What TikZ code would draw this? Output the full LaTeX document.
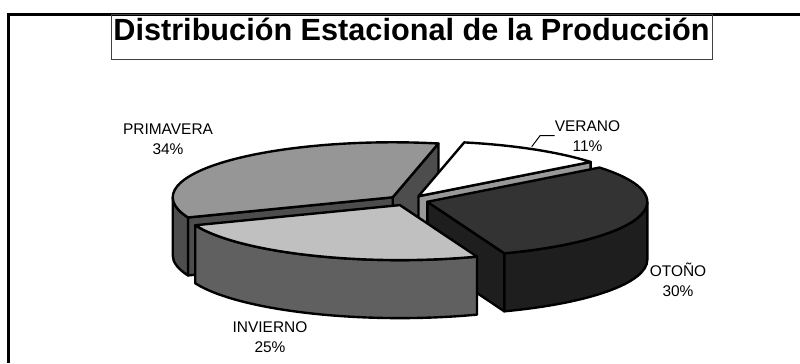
\documentclass[tikz,border=0pt]{standalone}
\usepackage{fontspec}
\setmainfont{Liberation Sans}
\definecolor{primTapa}{HTML}{969696}
\definecolor{primLado}{HTML}{4D4D4D}
\definecolor{verLado}{HTML}{999999}
\definecolor{otoTapa}{HTML}{333333}
\definecolor{otoLado}{HTML}{1E1E1E}
\definecolor{invTapa}{HTML}{C0C0C0}
\definecolor{invLado}{HTML}{606060}
\tikzset{
    cara/.style={draw, line width=1.7pt, line join=round},
    etiqueta/.style={align=center, inner sep=0pt, font=\fontsize{11}{14.2}\selectfont}
}
\newcommand{\grosor}{58}

\begin{document}
\begin{tikzpicture}[x=0.025cm, y=0.025cm]
\useasboundingbox (0,0) rectangle (800,363);

\draw[line width=1.9pt] (8.7,0) -- (8.7,348.3) -- (800,348.3);
\draw[black!75, line width=0.7pt] (111,304) rectangle (712,348.3);
\node[anchor=base, font=\fontsize{21.8}{26}\selectfont\bfseries] (titulo) at (411.5,322) {Distribución Estacional de la Producción};

% primavera
\coordinate (prim) at (392.7,165.7);
\filldraw[cara, fill=primLado] (prim) -- ++(78:220 and 55) -- ++(0,-\grosor) -- ++(258:220 and 55) -- cycle;
\filldraw[cara, fill=primLado] (prim) -- ++(201.5:220 and 55) -- ++(0,-\grosor) -- ++(21.5:220 and 55) -- cycle;
\filldraw[cara, fill=primLado] (prim) ++(180:220 and 55) arc[start angle=180, end angle=201.5, x radius=220, y radius=55] -- ++(0,-\grosor) arc[start angle=201.5, end angle=180, x radius=220, y radius=55] -- cycle;
\filldraw[cara, fill=primTapa] (prim) -- ++(78:220 and 55) arc[start angle=78, end angle=201.5, x radius=220, y radius=55] -- cycle;

% verano
\coordinate (ver) at (418.5,166.8);
\filldraw[cara, fill=verLado] (ver) -- ++(38.5:220 and 55) -- ++(0,-\grosor) -- ++(218.5:220 and 55) -- cycle;
\filldraw[cara, fill=white] (ver) -- ++(38.5:220 and 55) arc[start angle=38.5, end angle=78, x radius=220, y radius=55] -- cycle;

% otono
\coordinate (oto) at (427.3,161.2);
\filldraw[cara, fill=otoLado] (oto) -- ++(-69.5:220 and 55) -- ++(0,-\grosor) -- ++(110.5:220 and 55) -- cycle;
\filldraw[cara, fill=otoLado] (oto) ++(-69.5:220 and 55) arc[start angle=-69.5, end angle=0, x radius=220, y radius=55] -- ++(0,-\grosor) arc[start angle=0, end angle=-69.5, x radius=220, y radius=55] -- cycle;
\filldraw[cara, fill=otoTapa] (oto) -- ++(-69.5:220 and 55) arc[start angle=-69.5, end angle=38.5, x radius=220, y radius=55] -- cycle;

% invierno
\coordinate (inv) at (399.9,157.9);
\filldraw[cara, fill=invLado] (inv) ++(201.5:220 and 55) arc[start angle=201.5, end angle=290.5, x radius=220, y radius=55] -- ++(0,-\grosor) arc[start angle=290.5, end angle=201.5, x radius=220, y radius=55] -- cycle;
\filldraw[cara, fill=invTapa] (inv) -- ++(201.5:220 and 55) arc[start angle=201.5, end angle=290.5, x radius=220, y radius=55] -- cycle;

\node[etiqueta] (primavera) at (168,223.3) {PRIMAVERA\\34\%};
\node[etiqueta] (verano) at (587.5,227.3) {VERANO\\11\%};
\node[etiqueta] (otono) at (678,83) {OTOÑO\\30\%};
\node[etiqueta] (invierno) at (270,25.5) {INVIERNO\\25\%};

\coordinate (puntaVerano) at (531.7,216.3);
\coordinate (codoVerano) at (540,227.3);
\draw[line width=0.7pt] (puntaVerano) -- (codoVerano) -- (verano.west);

\end{tikzpicture}
\end{document}
